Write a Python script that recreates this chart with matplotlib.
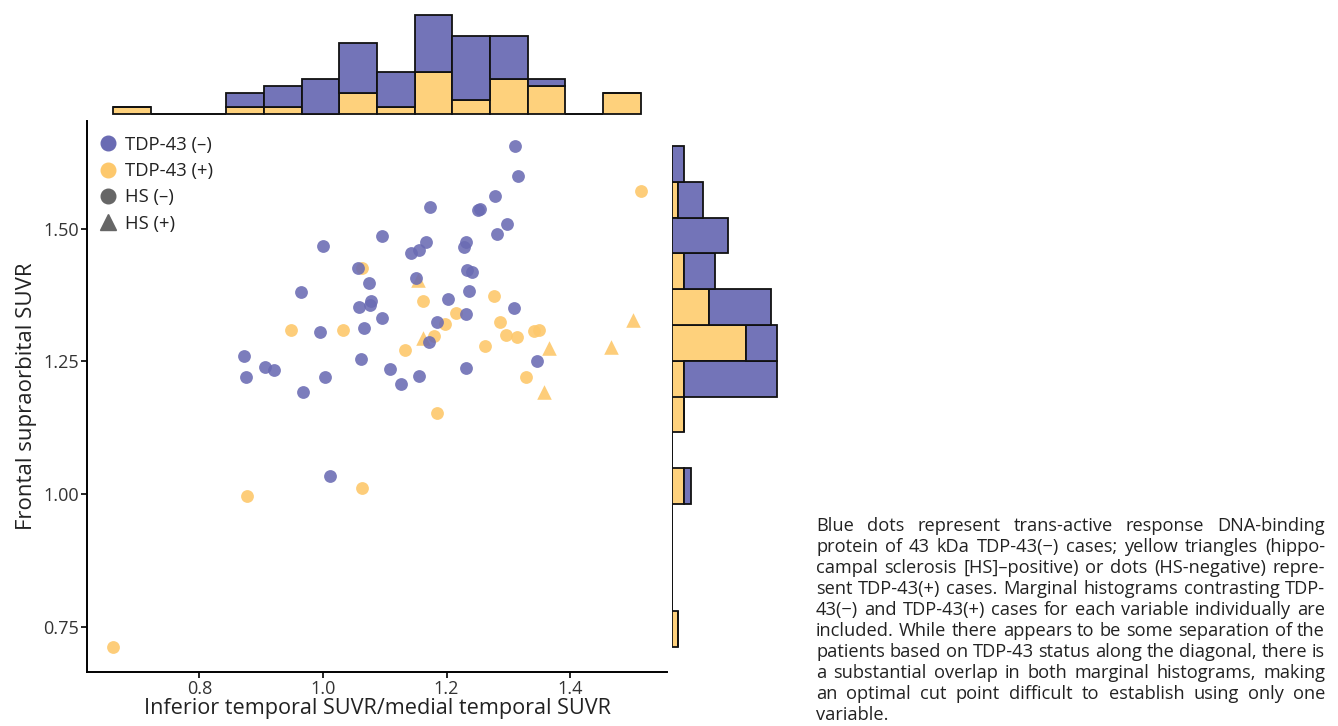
import numpy as np
import matplotlib
matplotlib.use("Agg")
import matplotlib.pyplot as plt
from matplotlib.lines import Line2D
from matplotlib.ticker import MultipleLocator, FormatStrFormatter

plt.rcParams['font.family'] = ['Open Sans', 'DejaVu Sans']

# TDP-43 negative cases (all HS-negative, drawn as dots)
neg_x = [1.096, 1.000, 1.057, 1.075, 0.964, 1.077, 1.059, 1.076, 1.096, 0.996,
         1.067, 0.872, 0.906, 0.921, 1.062, 0.875, 1.004, 0.968, 1.109,
         1.311, 1.316, 1.174, 1.278, 1.251, 1.254, 1.298, 1.282, 1.167, 1.156,
         1.142, 1.232, 1.229, 1.233, 1.241, 1.151, 1.236, 1.202, 1.309, 1.232,
         1.185, 1.171, 1.347, 1.231, 1.126, 1.156, 1.011]
neg_y = [1.486, 1.468, 1.426, 1.397, 1.380, 1.364, 1.353, 1.356, 1.331, 1.306,
         1.314, 1.260, 1.240, 1.234, 1.255, 1.220, 1.221, 1.193, 1.235,
         1.656, 1.599, 1.542, 1.562, 1.535, 1.537, 1.510, 1.491, 1.475, 1.461,
         1.455, 1.475, 1.466, 1.422, 1.419, 1.407, 1.383, 1.368, 1.350, 1.340,
         1.324, 1.287, 1.250, 1.238, 1.208, 1.222, 1.034]

# TDP-43 positive cases, hs = hippocampal sclerosis (triangle)
pos_x = [1.063, 0.948, 1.032, 1.514, 1.154, 1.162, 1.276, 1.216, 1.197, 1.287,
         1.180, 1.162, 1.296, 1.314, 1.342, 1.349, 1.133, 1.263, 1.365, 1.466,
         1.501, 1.328, 1.357, 1.184, 0.878, 1.064, 0.661]
pos_y = [1.427, 1.309, 1.309, 1.571, 1.403, 1.364, 1.373, 1.342, 1.321, 1.324,
         1.298, 1.295, 1.299, 1.296, 1.308, 1.310, 1.271, 1.279, 1.276, 1.277,
         1.328, 1.220, 1.193, 1.153, 0.997, 1.011, 0.712]
pos_hs = [0, 0, 0, 0, 1, 0, 0, 0, 0, 0,
          0, 1, 0, 0, 0, 0, 0, 0, 1, 1,
          1, 0, 1, 0, 0, 0, 0]

# right marginal histogram counts (14 bins, low -> high)
right_pos = [1, 0, 0, 0, 2, 0, 2, 2, 12, 6, 2, 0, 1, 0]
right_neg = [0, 0, 0, 0, 1, 0, 0, 15, 5, 10, 5, 9, 4, 2]

legend_labels = ['TDP-43 (–)', 'TDP-43 (+)', 'HS (–)', 'HS (+)']

caption_lines = [
    "Blue dots represent trans-active response DNA-binding",
    "protein of 43 kDa TDP-43(−) cases; yellow triangles (hippo-",
    "campal sclerosis [HS]–positive) or dots (HS-negative) repre-",
    "sent TDP-43(+) cases. Marginal histograms contrasting TDP-",
    "43(−) and TDP-43(+) cases for each variable individually are",
    "included. While there appears to be some separation of the",
    "patients based on TDP-43 status along the diagonal, there is",
    "a substantial overlap in both marginal histograms, making",
    "an optimal cut point difficult to establish using only one",
    "variable.",
]

blue = '#7374B8'
yellow = '#FED17C'
dot_blue = '#6A6BB3'
dot_yellow = '#FDC86C'
grey = '#666666'
txt = '#222222'

neg_x = np.array(neg_x); neg_y = np.array(neg_y)
pos_x = np.array(pos_x); pos_y = np.array(pos_y)
pos_hs = np.array(pos_hs, dtype=bool)
all_x = np.concatenate([neg_x, pos_x])
all_y = np.concatenate([neg_y, pos_y])

W, H = 1338, 726
fig = plt.figure(figsize=(W / 100, H / 100), dpi=100)

L, B, AW, AH = 87, 54, 580, 551
ax = fig.add_axes([L / W, B / H, AW / W, AH / H])
ax_top = fig.add_axes([L / W, (B + AH + 6) / H, AW / W, 115 / H])
ax_rt = fig.add_axes([671.5 / W, B / H, 125 / W, AH / H])

# scatter
ax.scatter(pos_x[~pos_hs], pos_y[~pos_hs], s=85, color=dot_yellow, alpha=0.9,
           linewidths=0, zorder=2)
ax.scatter(pos_x[pos_hs], pos_y[pos_hs], s=110, marker='^', color=dot_yellow,
           alpha=0.9, linewidths=0, zorder=2)
ax.scatter(neg_x, neg_y, s=85, color=dot_blue, alpha=0.88, linewidths=0, zorder=3)

xr = all_x.max() - all_x.min()
yr = all_y.max() - all_y.min()
xlim = (all_x.min() - 0.05 * xr, all_x.max() + 0.05 * xr)
ylim = (all_y.min() - 0.05 * yr, all_y.max() + 0.05 * yr)
ax.set_xlim(xlim)
ax.set_ylim(ylim)

ax.xaxis.set_major_locator(MultipleLocator(0.2))
ax.yaxis.set_major_locator(MultipleLocator(0.25))
ax.xaxis.set_major_formatter(FormatStrFormatter('%.1f'))
ax.yaxis.set_major_formatter(FormatStrFormatter('%.2f'))
for s in ['top', 'right']:
    ax.spines[s].set_visible(False)
for s in ['left', 'bottom']:
    ax.spines[s].set_linewidth(1.4)
    ax.spines[s].set_color('black')
ax.tick_params(length=4, width=1.2, labelsize=13, labelcolor='#333333', pad=2)
ax.set_xlabel('Inferior temporal SUVR/medial temporal SUVR', fontsize=15.6,
              color=txt, labelpad=0)
ax.set_ylabel('Frontal supraorbital SUVR', fontsize=16, color=txt, labelpad=4)

handles = [
    Line2D([], [], ls='', marker='o', ms=10.5, color=dot_blue),
    Line2D([], [], ls='', marker='o', ms=10.5, color=dot_yellow),
    Line2D([], [], ls='', marker='o', ms=10.5, color=grey),
    Line2D([], [], ls='', marker='^', ms=11.5, color=grey),
]
ax.legend(handles, legend_labels, loc='upper left', bbox_to_anchor=(0.005, 0.99),
          frameon=False, fontsize=13.3, handlelength=1.0, handletextpad=0.4,
          labelspacing=0.45, borderaxespad=0.3, borderpad=0.2,
          labelcolor=txt)

# top marginal histogram (stacked: TDP-43(+) at base, TDP-43(-) on top)
edges_x = np.linspace(all_x.min(), all_x.max(), 15)
cnt_pos, _ = np.histogram(pos_x, bins=edges_x)
cnt_neg, _ = np.histogram(neg_x, bins=edges_x)
cx = (edges_x[:-1] + edges_x[1:]) / 2
bw = edges_x[1] - edges_x[0]
ax_top.bar(cx, cnt_pos, width=bw, color=yellow, edgecolor='#111111', linewidth=1.3)
ax_top.bar(cx, cnt_neg, width=bw, bottom=cnt_pos, color=blue,
           edgecolor='#111111', linewidth=1.3)
ax_top.set_xlim(xlim)
ax_top.set_ylim(-0.1, 16.1)
ax_top.axis('off')

# right marginal histogram
edges_y = np.linspace(all_y.min(), all_y.max(), 15)
cy = (edges_y[:-1] + edges_y[1:]) / 2
bh = edges_y[1] - edges_y[0]
right_pos = np.array(right_pos)
right_neg = np.array(right_neg)
ax_rt.barh(cy, right_pos, height=bh, color=yellow, edgecolor='#111111', linewidth=1.3)
ax_rt.barh(cy, right_neg, height=bh, left=right_pos, color=blue,
           edgecolor='#111111', linewidth=1.3)
ax_rt.set_ylim(ylim)
ax_rt.set_xlim(-0.1, 20.2)
ax_rt.axis('off')

# justified caption; font size chosen so the longest line just fits
fig.canvas.draw()
renderer = fig.canvas.get_renderer()
x0, x1 = 816, 1325
y_first, step = 526, 21.0
fs = 13.5
probe = [fig.text(0, 0, ln, fontsize=fs) for ln in caption_lines]
widest = max(t.get_window_extent(renderer).width for t in probe)
for t in probe:
    t.remove()
fs = min(fs, fs * (x1 - x0) / widest)
for i, line in enumerate(caption_lines):
    yf = 1 - (y_first + i * step) / H
    words = line.split(' ')
    if i == len(caption_lines) - 1:
        fig.text(x0 / W, yf, line, fontsize=fs, color=txt, va='center')
        continue
    texts = [fig.text(0, yf, w, fontsize=fs, color=txt, va='center')
             for w in words]
    widths = [t.get_window_extent(renderer).width for t in texts]
    gap = (x1 - x0 - sum(widths)) / (len(words) - 1)
    xp = x0
    for t, w in zip(texts, widths):
        t.set_x(xp / W)
        xp += w + gap

fig.savefig('out.png', dpi=100)
